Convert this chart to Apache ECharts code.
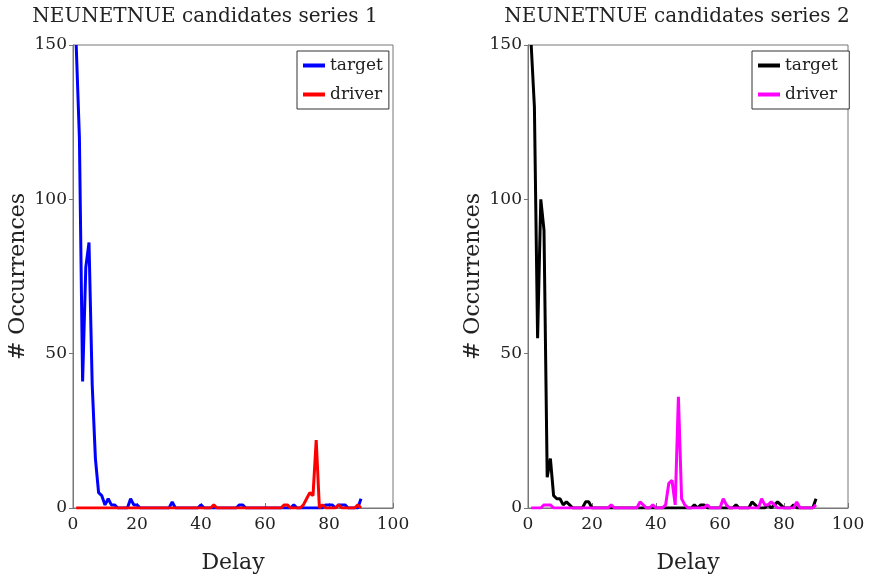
<!DOCTYPE html>
<html>
<head>
<meta charset="utf-8">
<script src="https://cdn.jsdelivr.net/npm/echarts@6/dist/echarts.min.js"></script>
<style>
  html, body { margin: 0; padding: 0; background: #fff; }
  #chart { width: 884px; height: 579px; }
</style>
</head>
<body>
<div id="chart"></div>
<script>
// delay values (x) shared by both panels
const delays = [
  1, 2, 3, 4, 5, 6, 7, 8, 9, 10, 11, 12, 13, 14, 15, 16, 17, 18, 19, 20,
  21, 22, 23, 24, 25, 26, 27, 28, 29, 30, 31, 32, 33, 34, 35, 36, 37, 38, 39, 40,
  41, 42, 43, 44, 45, 46, 47, 48, 49, 50, 51, 52, 53, 54, 55, 56, 57, 58, 59, 60,
  61, 62, 63, 64, 65, 66, 67, 68, 69, 70, 71, 72, 73, 74, 75, 76, 77, 78, 79, 80,
  81, 82, 83, 84, 85, 86, 87, 88, 89, 90
]

// series 1
const target1 = [
  150, 120, 41, 78, 86, 40, 16, 5, 4, 1, 3, 1, 1, 0, 0, 0, 0, 3, 1, 1,
  0, 0, 0, 0, 0, 0, 0, 0, 0, 0, 2, 0, 0, 0, 0, 0, 0, 0, 0, 1,
  0, 0, 0, 0, 0, 0, 0, 0, 0, 0, 0, 1, 1, 0, 0, 0, 0, 0, 0, 0,
  0, 0, 0, 0, 0, 0, 0, 0, 1, 0, 0, 0, 0, 0, 0, 0, 0, 0, 1, 1,
  1, 0, 1, 1, 1, 0, 0, 0, 0, 3
]
const driver1 = [
  0, 0, 0, 0, 0, 0, 0, 0, 0, 0, 0, 0, 0, 0, 0, 0, 0, 0, 0, 0,
  0, 0, 0, 0, 0, 0, 0, 0, 0, 0, 0, 0, 0, 0, 0, 0, 0, 0, 0, 0,
  0, 0, 0, 1, 0, 0, 0, 0, 0, 0, 0, 0, 0, 0, 0, 0, 0, 0, 0, 0,
  0, 0, 0, 0, 0, 1, 1, 0, 0, 0, 0, 1, 3, 5, 4, 22, 0, 1, 0, 0,
  0, 0, 1, 0, 0, 0, 0, 0, 1, 0
]

// series 2
const target2 = [
  150, 130, 55, 100, 90, 10, 16, 4, 3, 3, 1, 2, 1, 0, 0, 0, 0, 2, 2, 0,
  0, 0, 0, 0, 0, 0, 0, 0, 0, 0, 0, 0, 0, 0, 0, 0, 0, 0, 0, 0,
  0, 0, 0, 0, 0, 0, 0, 0, 0, 0, 0, 1, 0, 1, 1, 0, 0, 0, 0, 0,
  0, 0, 0, 0, 1, 0, 0, 0, 0, 2, 1, 0, 0, 0, 1, 0, 1, 2, 1, 0,
  0, 0, 1, 0, 0, 0, 0, 0, 0, 3
]
const driver2 = [
  0, 0, 0, 0, 1, 1, 1, 0, 0, 0, 0, 0, 0, 0, 0, 0, 0, 0, 0, 0,
  0, 0, 0, 0, 0, 1, 0, 0, 0, 0, 0, 0, 0, 0, 2, 1, 0, 0, 1, 0,
  0, 0, 1, 8, 9, 1, 36, 3, 1, 0, 0, 0, 0, 0, 0, 1, 0, 0, 0, 0,
  3, 1, 0, 0, 0, 0, 0, 0, 0, 0, 0, 0, 3, 1, 1, 2, 1, 0, 0, 0,
  0, 0, 0, 2, 0, 0, 0, 0, 0, 1
]

const xTicks = [0, 20, 40, 60, 80, 100]
const yTicks = [0, 50, 100, 150]

const FONT = 'DejaVu Serif'
const pair = (ys) => delays.map((d, i) => [d, ys[i]])

function xAxisFor(gridIndex) {
  return {
    type: 'value', gridIndex, min: 0, max: 100, interval: 20,
    name: 'Delay', nameLocation: 'middle', nameGap: 44,
    nameTextStyle: { fontFamily: FONT, fontSize: 22, color: '#222' },
    axisLine: { show: true, lineStyle: { color: '#777' } },
    axisTick: { show: true, inside: true, length: 5, lineStyle: { color: '#777' } },
    axisLabel: { fontFamily: FONT, fontSize: 17, color: '#222', margin: 8,
      formatter: (v) => xTicks.includes(v) ? String(v) : '' },
    splitLine: { show: false }
  }
}

function yAxisFor(gridIndex) {
  return {
    type: 'value', gridIndex, min: 0, max: 150, interval: 50,
    name: '# Occurrences', nameLocation: 'middle', nameGap: 44,
    nameTextStyle: { fontFamily: FONT, fontSize: 22, color: '#222' },
    axisLine: { show: true, lineStyle: { color: '#777' } },
    axisTick: { show: true, inside: false, length: 4, lineStyle: { color: '#777' } },
    axisLabel: { fontFamily: FONT, fontSize: 17, color: '#222', margin: 6,
      formatter: (v) => yTicks.includes(v) ? String(v) : '' },
    splitLine: { show: false }
  }
}

function legendFor(left) {
  return {
    left, top: 51, orient: 'vertical',
    icon: 'rect', itemWidth: 22, itemHeight: 4, itemGap: 12,
    padding: [6, 6, 6, 6],
    borderColor: '#333', borderWidth: 1, borderRadius: 0, backgroundColor: '#fff',
    textStyle: { fontFamily: FONT, fontSize: 17, color: '#222' },
    selectedMode: false
  }
}

function lineSeries(name, color, xi, ys) {
  return {
    name, type: 'line', xAxisIndex: xi, yAxisIndex: xi,
    data: pair(ys), showSymbol: false, symbol: 'none',
    lineStyle: { color, width: 3 }, itemStyle: { color },
    clip: true, animation: false
  }
}

const chart = echarts.init(document.getElementById('chart'), null, { renderer: 'canvas' })

chart.setOption({
  animation: false,
  backgroundColor: '#fff',
  title: [
    { text: 'NEUNETNUE candidates series 1', left: 200, top: 2, textAlign: 'center',
      textStyle: { fontFamily: FONT, fontSize: 20, fontWeight: 'normal', color: '#222' } },
    { text: 'NEUNETNUE candidates series 2', left: 672, top: 2, textAlign: 'center',
      textStyle: { fontFamily: FONT, fontSize: 20, fontWeight: 'normal', color: '#222' } }
  ],
  legend: [
    { ...legendFor(297), data: ['target', 'driver'] },
    { ...legendFor(752), data: ['target ', 'driver '] }
  ],
  grid: [
    { left: 73, top: 45, width: 320, height: 467, show: true, borderColor: '#777', borderWidth: 1 },
    { left: 528, top: 45, width: 320, height: 467, show: true, borderColor: '#777', borderWidth: 1 }
  ],
  xAxis: [xAxisFor(0), xAxisFor(1)],
  yAxis: [yAxisFor(0), yAxisFor(1)],
  series: [
    lineSeries('target', '#0000ff', 0, target1),
    lineSeries('driver', '#ff0000', 0, driver1),
    lineSeries('target ', '#000000', 1, target2),
    lineSeries('driver ', '#ff00ff', 1, driver2)
  ]
})
</script>
</body>
</html>
